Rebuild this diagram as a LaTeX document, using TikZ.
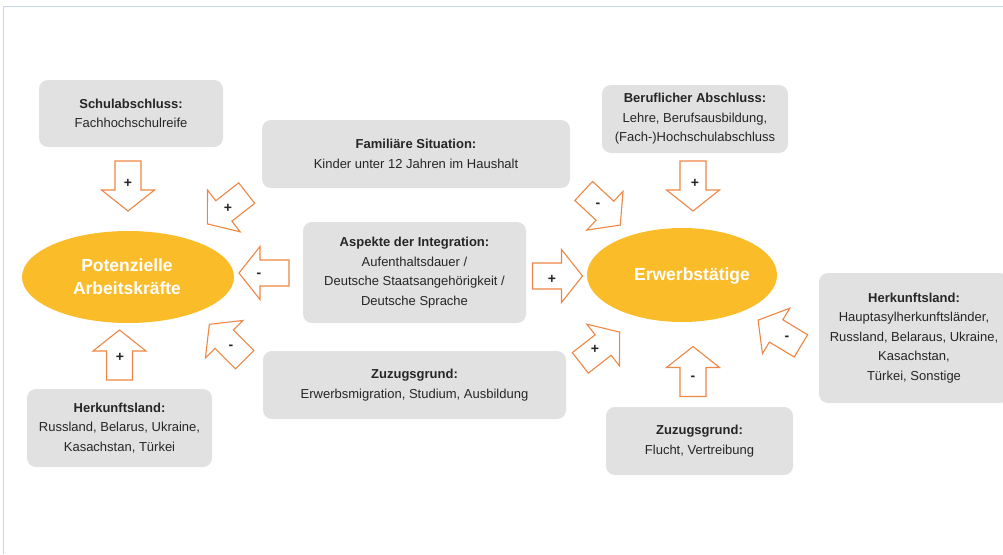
\documentclass[tikz,border=0pt]{standalone}
\usepackage{fontspec}
\setmainfont{Liberation Sans}
\usetikzlibrary{shapes.geometric}
\definecolor{boxgray}{HTML}{E1E1E2}
\definecolor{ellorange}{HTML}{FBBC2A}
\definecolor{arroworange}{HTML}{EE8745}
\definecolor{framebl}{HTML}{C3D7EE}
\tikzset{
  infobox/.style={fill=boxgray, rounded corners=9pt, align=center, inner sep=0pt,
    font=\fontsize{13}{19.5}\selectfont, text=black!85},
  ellnode/.style={fill=ellorange, ellipse, inner sep=0pt},
  elltext/.style={text=white, font=\fontsize{17.5}{23}\selectfont\bfseries, align=center},
  arrowline/.style={draw=arroworange, fill=white, line width=1.1pt, line join=miter},
  sign/.style={font=\fontsize{14}{14}\selectfont\bfseries, text=black!85, inner sep=0pt},
  barrow/.pic={\path[arrowline] (-25,-13) -- (4,-13) -- (4,-26.5) -- (25,0) -- (4,26.5) -- (4,13) -- (-25,13) -- cycle;}
}
\begin{document}
\begin{tikzpicture}[x=1pt,y=1pt]
\useasboundingbox (0,0) rectangle (1003,-554);
% frame
\draw[framebl, line width=1pt] (3,-554) -- (3,-6) -- (1003,-6);

% boxes
\node[infobox, minimum width=184pt, minimum height=67pt] (schul) at (131,-113.5)
  {\textbf{Schulabschluss:}\\Fachhochschulreife};
\node[infobox, minimum width=308pt, minimum height=68pt] (fam) at (416,-154)
  {\textbf{Familiäre Situation:}\\Kinder unter 12 Jahren im Haushalt};
\node[infobox, minimum width=186pt, minimum height=68pt] (beruf) at (695,-119)
  {\textbf{Beruflicher Abschluss:}\\Lehre, Berufsausbildung,\\(Fach-)Hochschulabschluss};
\node[infobox, minimum width=223pt, minimum height=101pt] (asp) at (414.5,-272.5)
  {\textbf{Aspekte der Integration:}\\Aufenthaltsdauer /\\Deutsche Staatsangehörigkeit /\\Deutsche Sprache};
\node[infobox, minimum width=190pt, minimum height=130pt] (herkr) at (914,-338)
  {\textbf{Herkunftsland:}\\Hauptasylherkunftsländer,\\Russland, Belaraus, Ukraine,\\Kasachstan,\\Türkei, Sonstige};
\node[infobox, minimum width=303pt, minimum height=68pt] (zuzm) at (414.5,-385)
  {\textbf{Zuzugsgrund:}\\Erwerbsmigration, Studium, Ausbildung};
\node[infobox, minimum width=185pt, minimum height=78pt] (herkl) at (119.5,-428)
  {\textbf{Herkunftsland:}\\Russland, Belarus, Ukraine,\\Kasachstan, Türkei};
\node[infobox, minimum width=187pt, minimum height=68pt] (zuzr) at (699.5,-441)
  {\textbf{Zuzugsgrund:}\\Flucht, Vertreibung};

% ellipses
\node[ellnode, minimum width=212pt, minimum height=92pt] (pot) at (128,-277) {};
\node[elltext] (pott) at (127,-277) {Potenzielle\\Arbeitskräfte};
\node[ellnode, minimum width=190pt, minimum height=94pt] (erw) at (682,-275) {};
\node[elltext] (erwt) at (692,-276) {Erwerbstätige};

% block arrows
\pic[rotate=-90] at (128,-186) {barrow};
\node[sign] (s1) at (128,-183) {+};
\pic[rotate=218] at (227,-208.5) {barrow};
\node[sign] (s2) at (228,-208) {+};
\pic[rotate=180] at (264,-273) {barrow};
\node[sign] (s3) at (259,-275) {-};
\pic[rotate=135] at (227,-342) {barrow};
\node[sign] (s4) at (231,-347) {-};
\pic[rotate=90] at (119.5,-355) {barrow};
\node[sign] (s5) at (120,-357) {+};
\pic[rotate=-43] at (602,-208) {barrow};
\node[sign] (s6) at (598,-205) {-};
\pic[rotate=-90] at (693,-186) {barrow};
\node[sign] (s7) at (695,-183) {+};
\pic[rotate=0] at (557.5,-276) {barrow};
\node[sign] (s8) at (552,-279) {+};
\pic[rotate=38] at (600,-347.5) {barrow};
\node[sign] (s9) at (595,-349) {+};
\pic[rotate=90] at (693,-371.5) {barrow};
\node[sign] (s10) at (693,-378) {-};
\pic[rotate=149] at (779.5,-333) {barrow};
\node[sign] (s11) at (787,-338) {-};
\end{tikzpicture}
\end{document}
